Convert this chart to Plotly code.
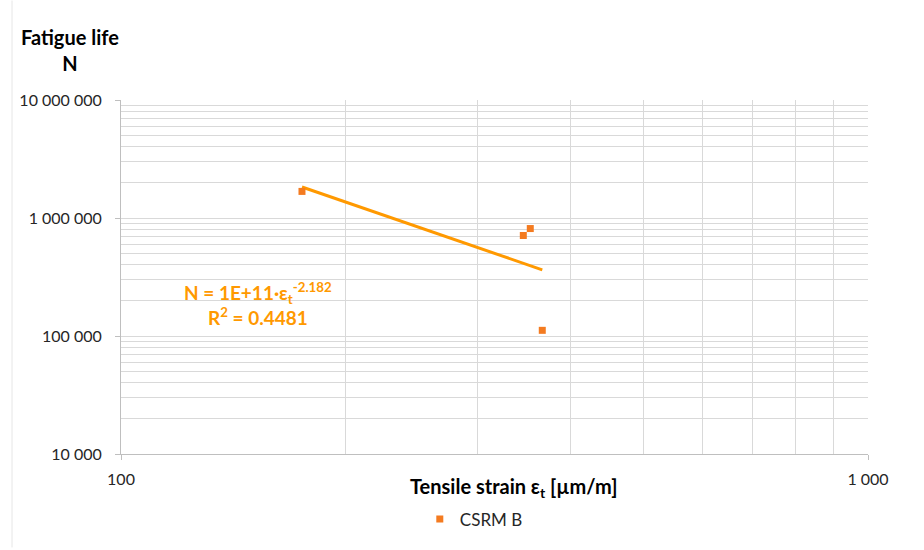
import numpy as np
import plotly.graph_objects as go

# Measured fatigue data for CSRM B
strain = [174.7, 345.6, 353.1, 366.4]          # tensile strain, µm/m
cycles = [1680000, 711000, 814000, 111700]     # fatigue life N

# Power trendline N = a * strain^b (exponent as reported)
trend_exp = -2.182
trend_label = "N = 1E+11·ε<sub>t</sub><sup>-2.182</sup>"
r2_label = "R<sup>2</sup> = 0.4481"

x_ticks = [100, 1000]
x_ticktext = ["100", "1 000"]
y_ticks = [10000, 100000, 1000000, 10000000]
y_ticktext = ["10 000", "100 000", "1 000 000", "10 000 000"]

FONT = "Lato, 'Open Sans', sans-serif"
MARKER_COLOR = "#F47B20"
TREND_COLOR = "#FF9900"
GRID = "#D9D9D9"

# Least-squares intercept in log space for the given exponent
lx = np.log10(strain)
ly = np.log10(cycles)
log_a = ly.mean() - trend_exp * lx.mean()
xt = np.array([min(strain), max(strain)])
yt = 10 ** (log_a + trend_exp * np.log10(xt))

minor_x = [m * 10 ** d for d in (2,) for m in range(2, 10)]
minor_y = [m * 10 ** d for d in (4, 5, 6) for m in range(2, 10)]

fig = go.Figure()
fig.add_trace(go.Scatter(
    x=xt, y=yt, mode="lines", showlegend=False,
    line=dict(color=TREND_COLOR, width=3), hoverinfo="skip"))
fig.add_trace(go.Scatter(
    x=strain, y=cycles, mode="markers", name="CSRM B",
    marker=dict(symbol="square", size=7, color=MARKER_COLOR)))

axis_common = dict(
    type="log", showgrid=True, gridcolor=GRID, gridwidth=1,
    showline=True, linecolor="#BFBFBF", linewidth=1,
    ticks="outside", ticklen=5, tickcolor="#BFBFBF",
    tickfont=dict(family=FONT, size=16, color="#262626"),
    zeroline=False,
)

fig.update_layout(
    width=924, height=550, autosize=False,
    margin=dict(l=121, r=56, t=100, b=94),
    paper_bgcolor="white", plot_bgcolor="white",
    font=dict(family=FONT),
    xaxis=dict(axis_common, range=[2, 3], tickvals=x_ticks, ticktext=x_ticktext,
               ticklabelstandoff=6,
               minor=dict(tickvals=minor_x, showgrid=True, gridcolor=GRID,
                          gridwidth=1, ticks="")),
    yaxis=dict(axis_common, range=[4, 7], tickvals=y_ticks, ticktext=y_ticktext,
               ticklabelstandoff=10,
               minor=dict(tickvals=minor_y, showgrid=True, gridcolor=GRID,
                          gridwidth=1, ticks="")),
    legend=dict(orientation="h", x=0.4, y=-0.185, xanchor="left", yanchor="middle",
                font=dict(family=FONT, size=17, color="#262626"),
                bgcolor="rgba(0,0,0,0)"),
    annotations=[
        dict(text="<b>Fatigue life<br>N</b>", xref="paper", yref="paper",
             x=-0.068, y=1.14, xanchor="center", yanchor="middle", showarrow=False,
             align="center", font=dict(family=FONT, size=20, color="#000000")),
        dict(text="<b>Tensile strain ε<sub>t</sub> [µm/m]</b>", xref="paper", yref="paper",
             x=0.526, y=-0.095, xanchor="center", yanchor="middle", showarrow=False,
             font=dict(family=FONT, size=20, color="#000000")),
        dict(text="<b>" + trend_label + "<br>" + r2_label + "</b>", xref="paper", yref="paper",
             x=0.183, y=0.425, xanchor="center", yanchor="middle", showarrow=False,
             align="center", font=dict(family=FONT, size=19, color=TREND_COLOR)),
    ],
    shapes=[
        dict(type="line", xref="paper", yref="paper", x0=-0.1459, x1=-0.1459,
             y0=-0.264, y1=1.281, line=dict(color="#E6E6E6", width=1)),
    ],
)

fig.write_html("out.html")
